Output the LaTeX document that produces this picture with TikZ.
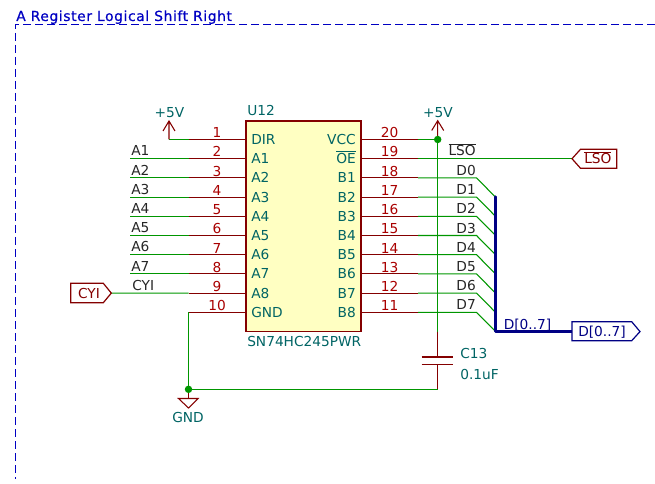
\documentclass[tikz,border=0pt]{standalone}
\usepackage{fontspec}
\setmainfont{DejaVu Sans}
\newfontfamily\ttlfont[LetterSpace=4.3,FakeBold=0.6]{DejaVu Sans}
\definecolor{pinc}{HTML}{840000}
\definecolor{numc}{HTML}{A90000}
\definecolor{wirec}{HTML}{009600}
\definecolor{busc}{HTML}{000084}
\definecolor{titlec}{HTML}{0000C2}
\definecolor{tealc}{HTML}{006464}
\definecolor{bodyc}{HTML}{FFFFC2}
\newcommand{\ovl}[1]{$\overline{\hbox{#1}}$}
\tikzset{
  txt/.style={inner sep=0pt,font=\fontsize{10.3}{12}\selectfont},
  lbl/.style={txt,text=black!85},
  part/.style={txt,text=tealc},
  pinnum/.style={txt,text=numc,anchor=base},
  pinline/.style={draw=pinc,line width=0.8pt},
  wire/.style={draw=wirec,line width=0.8pt},
  busline/.style={draw=busc,line width=1.9pt},
  hier/.style={line width=0.9pt,line join=miter},
  dot/.style={fill=wirec,draw=none,circle,minimum size=5.6pt,inner sep=0pt},
}
\begin{document}
\begin{tikzpicture}[x=0.75pt,y=-0.75pt]
\useasboundingbox (0,0) rectangle (655,484);
% sheet frame
\coordinate (fa) at (655,24.5);
\coordinate (fb) at (15.5,24.5);
\coordinate (fc) at (15.5,479);
\draw[titlec,line width=0.8pt,dash pattern=on 6pt off 3pt] (fa) -- (fb) -- (fc);
\node[inner sep=0pt,anchor=base west,text=titlec,font=\fontsize{10.4}{12}\ttlfont] (title) at (16,21) {A Register Logical Shift Right};
% IC
\node[draw=pinc,fill=bodyc,line width=1.1pt,minimum width=86.25pt,minimum height=157.9pt,inner sep=0pt] (U) at (303.5,226.25) {};
\node[part,anchor=base west] (ref) at (247,115.7) {U12};
\node[part,anchor=base west] (val) at (247,346) {SN74HC245PWR};
% left pins
\foreach \n/\pn in {1/DIR,2/A1,3/A2,4/A3,5/A4,6/A5,7/A6,8/A7,9/A8,10/GND}{
  \pgfmathsetmacro{\py}{139.5+19.2*(\n-1)}
  \coordinate (pa\n) at (246,\py);
  \coordinate (pb\n) at (188.5,\py);
  \draw[pinline] (pa\n) -- (pb\n);
  \node[pinnum] (ln\n) at (217,\py-1.7) {\n};
  \node[part,anchor=base west] (lt\n) at (251,\py+5) {\pn};
}
% left wires and labels
\foreach \n/\w in {2/A1,3/A2,4/A3,5/A4,6/A5,7/A6,8/A7}{
  \pgfmathsetmacro{\py}{139.5+19.2*(\n-1)}
  \coordinate (wl\n) at (130,\py);
  \draw[wire] (wl\n) -- (pb\n);
  \node[lbl,anchor=base west] (wt\n) at (131,\py-2.7) {\w};
}
% right pins
\foreach \n/\pn/\q in {20/VCC/0,19/{\ovl{OE}}/1,18/B1/2,17/B2/3,16/B3/4,15/B4/5,14/B5/6,13/B6/7,12/B7/8,11/B8/9}{
  \pgfmathsetmacro{\py}{139.5+19.2*\q}
  \coordinate (ra\n) at (361,\py);
  \coordinate (rb\n) at (418,\py);
  \draw[pinline] (ra\n) -- (rb\n);
  \node[pinnum] (rn\n) at (389.5,\py-1.7) {\n};
  \node[part,anchor=base east] (rt\n) at (356,\py+5) {\pn};
}
% bus
\coordinate (bt) at (495.5,196.7);
\coordinate (bb) at (495.5,331.6);
% data wires
\foreach \n/\w/\q in {18/D0/2,17/D1/3,16/D2/4,15/D3/5,14/D4/6,13/D5/7,12/D6/8,11/D7/9}{
  \pgfmathsetmacro{\py}{139.5+19.2*\q}
  \coordinate (dk\n) at (476.5,\py);
  \coordinate (de\n) at (495.5,\py+19.2);
  \draw[wire] (rb\n) -- (dk\n) -- (de\n);
  \node[lbl,anchor=base east] (dt\n) at (476,\py-2.4) {\w};
}
\coordinate (hd) at (572,331.6);
\draw[busline,line cap=round,line join=round] (bt) -- (bb) -- (hd);
\node[txt,anchor=base west,text=busc] (bl) at (503.5,329) {D[0..7]};
\draw[busc,hier,fill=white] (hd) -- (572,321.7) -- (631.7,321.7) -- (640,331.6) -- (631.7,340.7) -- (572,340.7) -- cycle;
\node[txt,anchor=base west,text=busc] (hl) at (578,336.7) {D[0..7]};
% LSO
\coordinate (lsot) at (572,158.7);
\draw[wire] (rb19) -- (lsot);
\node[lbl,anchor=base east] (lsow) at (476,156) {\ovl{LSO}};
\draw[pinc,hier] (lsot) -- (580.5,149.3) -- (616.7,149.3) -- (616.7,168.3) -- (580.5,168.3) -- cycle;
\node[txt,anchor=base west,text=pinc] (lsoh) at (584,164) {\ovl{LSO}};
% CYI
\coordinate (cyit) at (111.3,293.1);
\draw[wire] (cyit) -- (pb9);
\node[lbl,anchor=base west] (cyiw) at (132,290.7) {CYI};
\draw[pinc,hier] (cyit) -- (103.3,283.3) -- (70.7,283.3) -- (70.7,302.7) -- (103.3,302.7) -- cycle;
\node[txt,anchor=base,text=pinc] (cyih) at (89,298) {CYI};
% +5V left
\coordinate (pl) at (169,139.5);
\coordinate (pla) at (169,121);
\draw[wire] (pl) -- (pb1);
\draw[pinline] (pl) -- (pla) (163,131) -- (pla) -- (175,131);
\node[part,anchor=base] (plt) at (169.5,117.3) {+5V};
% +5V right, cap
\coordinate (vj) at (437.7,139.5);
\coordinate (vr) at (437.7,120.7);
\coordinate (cw) at (437.7,331.6);
\coordinate (ct) at (437.7,357);
\coordinate (cb) at (437.7,364.5);
\coordinate (gr) at (437.7,389.3);
\coordinate (gl) at (188.5,389.3);
\coordinate (gs) at (188.5,398.5);
\draw[wire] (rb20) -- (vj) -- (cw);
\draw[pinline] (vj) -- (vr) (431.7,130.5) -- (vr) -- (443.7,130.5);
\node[part,anchor=base] (prt) at (438,117.3) {+5V};
\draw[pinline] (cw) -- (ct) (cb) -- (gr);
\draw[pinc,line width=1.3pt] (421.7,357) -- (453.3,357) (421.7,364.5) -- (453.3,364.5);
\node[part,anchor=base west] (cr) at (460,358.7) {C13};
\node[part,anchor=base west] (cv) at (460,379.3) {0.1uF};
% ground
\draw[wire] (pb10) -- (gl) -- (gr);
\draw[pinline] (gl) -- (gs);
\draw[pinc,line width=0.8pt,line join=miter] (178.5,398.5) -- (198,398.5) -- (188.5,408) -- cycle;
\node[part,anchor=base] (gt) at (188,422.7) {GND};
\node[dot] (j1) at (vj) {};
\node[dot] (j2) at (gl) {};
\end{tikzpicture}
\end{document}
